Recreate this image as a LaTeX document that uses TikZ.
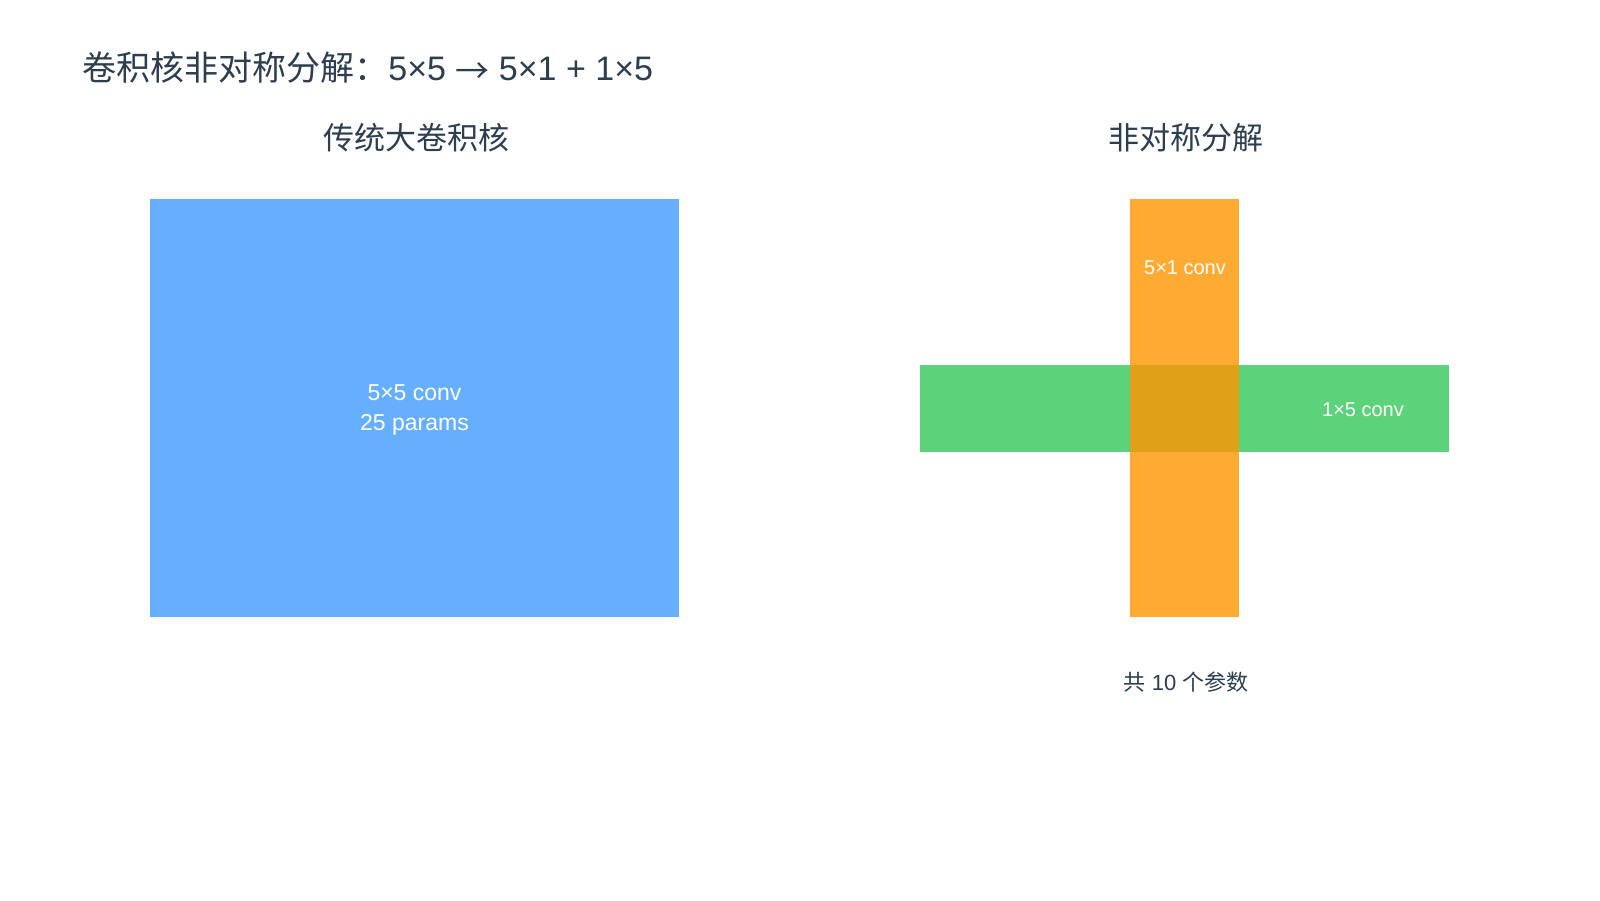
\documentclass[tikz,border=0pt]{standalone}
\usepackage{fontspec}
\setmainfont{Liberation Sans}
\newfontfamily\cjk{Noto Sans CJK SC}
\definecolor{navy}{HTML}{2C3E50}
\definecolor{kblue}{HTML}{007AFF}
\definecolor{kgreen}{HTML}{34C759}
\definecolor{korange}{HTML}{FF9500}
\begin{document}
\begin{tikzpicture}[x=0.5pt,y=-0.5pt,
  heading/.style={inner sep=0, text=navy},
  boxlabel/.style={inner sep=0, text=white, align=center},
  big/.style={fill=kblue, fill opacity=0.6},
  vbar/.style={fill=korange, fill opacity=0.8},
  hbar/.style={fill=kgreen, fill opacity=0.8}]
\useasboundingbox (0,0) rectangle (1600,900);
\fill[white] (0,0) rectangle (1600,900);
% title
\node[heading, anchor=base west, font=\fontsize{17}{20}\selectfont] (title) at (82,80)
  {{\cjk 卷积核非对称分解：}5×5 \raisebox{-1.5pt}{\cjk →} 5×1 + 1×5};
% subtitles
\node[heading, font=\cjk\fontsize{15.5}{18}\selectfont] (subl) at (416,138) {传统大卷积核};
\node[heading, font=\cjk\fontsize{15.5}{18}\selectfont] (subr) at (1186,138) {非对称分解};
% traditional kernel
\fill[big] (150,199) rectangle (679,617);
\coordinate (bigc) at (414.5,410);
\node[boxlabel, font=\fontsize{11.5}{15}\selectfont] (biglbl) at (bigc) {5×5 conv\\25 params};
% asymmetric
\fill[hbar] (920,365) rectangle (1449,452);
\fill[vbar] (1130,199) rectangle (1239,617);
\node[boxlabel, font=\fontsize{10}{12}\selectfont] (vlbl) at (1185,268) {5×1 conv};
\node[boxlabel, font=\fontsize{10}{12}\selectfont] (hlbl) at (1363,410) {1×5 conv};
\node[heading, font=\fontsize{11}{14}\selectfont] (total) at (1186,682) {{\cjk 共} 10 {\cjk 个参数}};
\end{tikzpicture}
\end{document}
